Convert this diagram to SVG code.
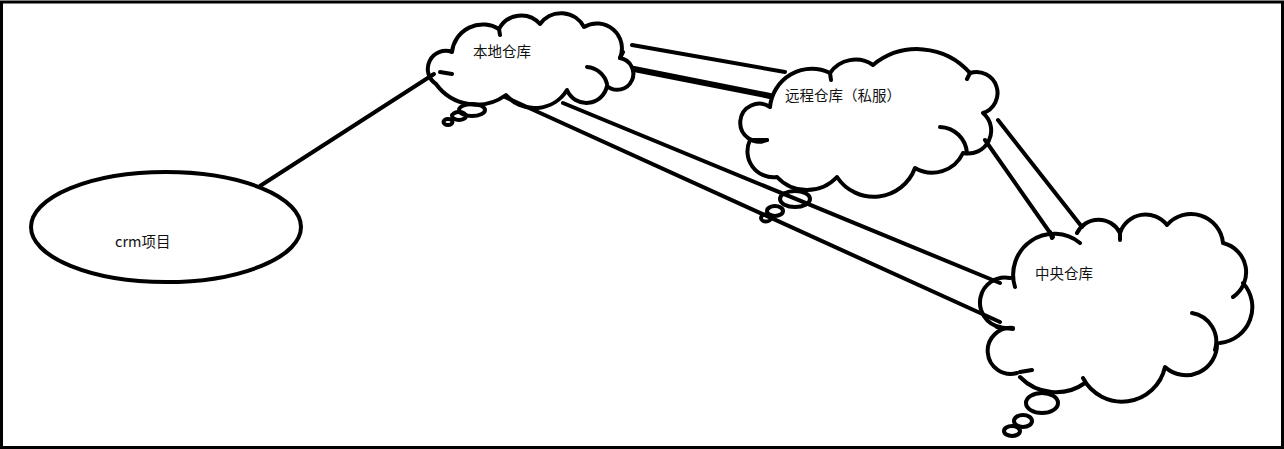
<svg xmlns="http://www.w3.org/2000/svg" width="1284" height="449" viewBox="0 0 1284 449">
<style>
.s{fill:none;stroke:#000;stroke-width:4;stroke-linecap:round;stroke-linejoin:round}
.t{font-family:"Noto Sans CJK SC","Noto Sans",sans-serif;font-size:14.5px;fill:#111}
</style>
<rect x="1.5" y="2" width="1281" height="445.5" fill="#fff" stroke="#000" stroke-width="3"/>
<g id="connectors" class="s">
<line x1="260" y1="186" x2="434" y2="74"/>
<line x1="632" y1="45" x2="785" y2="72"/>
<line x1="634" y1="69" x2="770" y2="96" stroke-width="6"/>
<line x1="563" y1="103" x2="1000" y2="283"/>
<line x1="505" y1="97" x2="1000" y2="322"/>
<line x1="998" y1="120" x2="1082" y2="227"/>
<line x1="985" y1="140" x2="1053" y2="237"/>
</g>
<g id="crm">
<ellipse class="s" cx="166" cy="227" rx="135" ry="55"/>
<text class="t" x="115" y="246.5" font-size="14">crm项目</text>
</g>
<g id="local">
<path class="s" d="M436,84 A18,18 0 0 1 452,52 A31,31 0 0 1 499,29 A25,25 0 0 1 540,24 A26,26 0 0 1 584,27 A25,25 0 0 1 620,58 A16,16 0 1 1 607,86 A21,21 0 0 1 567,90 A38,38 0 0 1 506,95 A50,50 0 0 1 436,84 Z"/>
<path class="s" d="M440,72 L452,74 M587,67 A22,22 0 0 1 607,84 M499,29 L500,35 M620,58 L623,52"/>
<ellipse class="s" cx="472" cy="110" rx="13" ry="6" stroke-width="3.5"/>
<ellipse class="s" cx="459" cy="116" rx="7" ry="4" stroke-width="3.5"/>
<ellipse class="s" cx="448" cy="122" rx="4.5" ry="3" stroke-width="3.5"/>
<text class="t" x="473" y="57">本地仓库</text>
</g>
<g id="remote">
<path class="s" d="M777,177 A26,26 0 0 1 750,140 M767,140 A19,19 0 1 1 770,107 A42,42 0 0 1 830,73 A31,31 0 0 1 873,65 A70,70 0 0 1 970,73 A21,21 0 0 1 983,113 A23,23 0 0 1 963,153 A34,34 0 0 1 915,168 A44,44 0 0 1 837,177 A41,41 0 0 1 777,177"/>
<path class="s" d="M750,140 L767,140 M940,127 A28,28 0 0 1 967,153 M830,73 L831,80 M970,73 L967,79"/>
<ellipse class="s" cx="795" cy="199" rx="15" ry="8" stroke-width="3.5"/>
<ellipse class="s" cx="775" cy="211" rx="8" ry="5" stroke-width="3.5"/>
<ellipse class="s" cx="766" cy="218" rx="5" ry="3.5" stroke-width="3.5"/>
<text class="t" x="785" y="100.5">远程仓库（私服）</text>
</g>
<g id="central">
<path class="s" d="M1017,373 A23,23 0 1 1 1013,328 M1000,327 A25,25 0 0 1 1010,278 M1015,287 A41,41 0 0 1 1080,243 M1077,233 A24,24 0 0 1 1120,233 A27,27 0 0 1 1167,225 A32,32 0 0 1 1223,243 A30,30 0 0 1 1233,297 M1243,283 A36,36 0 0 1 1220,343 M1217,343 A31,31 0 0 1 1165,367 A44,44 0 0 1 1083,378 M1085,383 A50,50 0 0 1 1020,377"/>
<path class="s" d="M1020,372 L1032,370 M997,327 L1013,329 M1192,313 A29,29 0 0 1 1215,350 M1050,232 L1052,238 M1120,233 L1120,240"/>
<ellipse class="s" cx="1042" cy="403" rx="16" ry="10" stroke-width="3.5"/>
<ellipse class="s" cx="1023" cy="421" rx="9" ry="6" stroke-width="3.5"/>
<ellipse class="s" cx="1012" cy="431" rx="8" ry="5" stroke-width="3.5"/>
<text class="t" x="1035" y="279">中央仓库</text>
</g>
</svg>
